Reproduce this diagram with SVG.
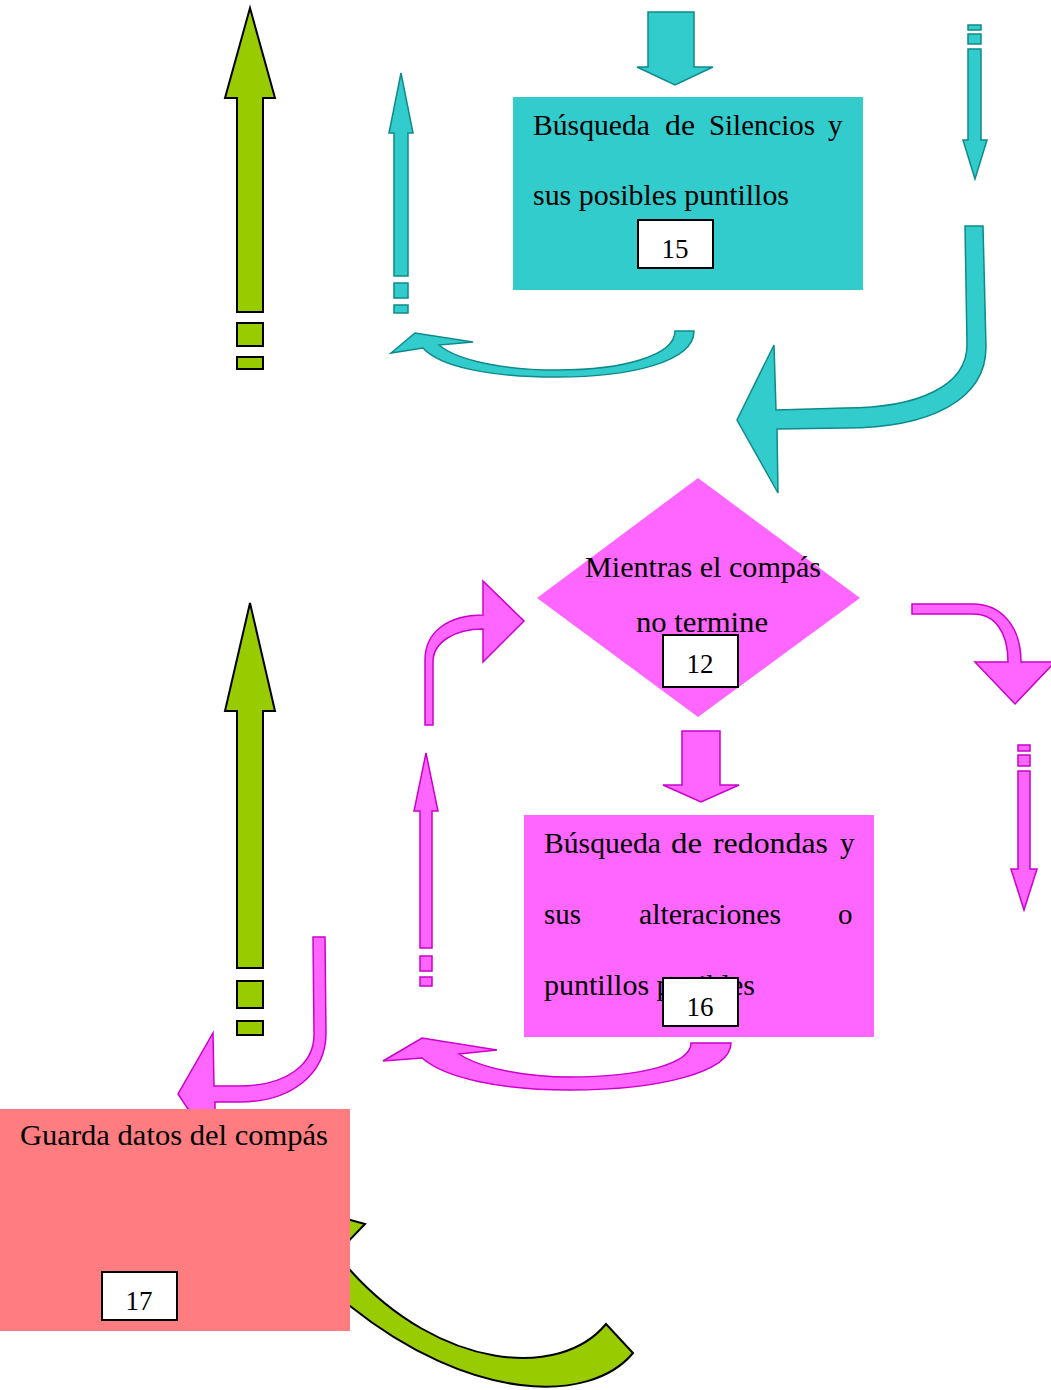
<svg xmlns="http://www.w3.org/2000/svg" width="1051" height="1390" viewBox="0 0 1051 1390">
  <style>
    .txt { font-family: "Liberation Serif", "Times New Roman", serif; font-size: 29px; fill: #000; }
    .num { font-family: "Liberation Serif", "Times New Roman", serif; font-size: 27px; fill: #000; text-anchor: middle; }
    .tag { fill: #fff; stroke: #000; stroke-width: 2; }
    .cyan { fill: #33CCCC; stroke: #0E8A8A; stroke-width: 1.5; stroke-linejoin: miter; }
    .pink { fill: #FF66FF; stroke: #CC00CC; stroke-width: 1.5; stroke-linejoin: miter; }
    .green { fill: #99CC00; stroke: #000; stroke-width: 2; stroke-linejoin: miter; }
  </style>

  <g id="connectors">
    <!-- green striped up arrow, upper -->
    <g class="green">
      <polygon points="250,8 275,98 263,98 263,312 237,312 237,98 225,98"/>
      <rect x="237" y="323" width="26" height="23"/>
      <rect x="237" y="357" width="26" height="12"/>
    </g>
    <!-- cyan striped up arrow -->
    <g class="cyan">
      <polygon points="401,73 413,133 408,133 408,276 394,276 394,133 389,133"/>
      <rect x="394" y="283" width="14" height="15"/>
      <rect x="394" y="305" width="14" height="8"/>
    </g>
    <!-- cyan down block arrow into box 15 -->
    <polygon class="cyan" points="648,12 694,12 694,67 713,67 675,85 637,67 648,67"/>
    <!-- cyan striped down arrow, right -->
    <g class="cyan">
      <rect x="968" y="25" width="13" height="5"/>
      <rect x="968" y="34" width="13" height="10"/>
      <polygon points="968,49 981,49 981,140 987,140 975,179 963,140 968,140"/>
    </g>
    <!-- cyan U-turn arrow under box 15 -->
    <path class="cyan" d="M 675,331 L 694,331 C 694,362 630,377 557,377 C 490,377 440,367 423,348 L 391,353 L 415,333 L 473,342 L 439,345 C 458,361 505,370 557,370 C 625,370 675,355 675,331 Z"/>
    <!-- cyan bent arrow towards the diamond -->
    <path class="cyan" d="M 965,226 L 983,226 L 986,347 C 986,400 930,428 845,428 L 777,429 L 778,493 L 737,420 L 774,345 L 776,410 L 845,408 C 920,408 967,385 967,345 Z"/>

    <!-- pink bent arrow into the diamond -->
    <path class="pink" d="M 425,725 L 425,660 C 425,632 448,615 483,615 L 483,581 L 524,621 L 483,662 L 483,629 C 455,629 433,642 433,662 L 433,725 Z"/>
    <!-- pink bent arrow out of the diamond -->
    <path class="pink" d="M 912,604 L 973,604 C 1000,604 1021,625 1021,662 L 1055,662 L 1015,704 L 975,662 L 1008,662 C 1008,632 995,614 973,614 L 912,614 Z"/>
    <!-- pink down block arrow into box 16 -->
    <polygon class="pink" points="682,731 720,731 720,785 739,785 701,802 663,785 682,785"/>
    <!-- pink striped up arrow -->
    <g class="pink">
      <polygon points="426,753 438,811 432,811 432,948 420,948 420,811 414,811"/>
      <rect x="420" y="956" width="12" height="15"/>
      <rect x="420" y="977" width="12" height="9"/>
    </g>
    <!-- pink striped down arrow, right -->
    <g class="pink">
      <rect x="1018" y="745" width="12" height="6"/>
      <rect x="1018" y="755" width="12" height="11"/>
      <polygon points="1018,771 1030,771 1030,869 1037,869 1024,910 1011,869 1018,869"/>
    </g>
    <!-- pink U-turn arrow under box 16 -->
    <path class="pink" d="M 691,1043 L 731,1043 C 731,1072 660,1090 570,1090 C 500,1090 445,1078 422,1058 L 383,1061 L 422,1038 L 497,1050 L 459,1054 C 480,1068 525,1077 570,1077 C 640,1077 691,1064 691,1043 Z"/>
    <!-- pink bent arrow down to box 17 -->
    <path class="pink" d="M 313,937 L 325,937 L 326,1033 C 326,1075 290,1102 240,1102 L 215,1102 L 215,1150 L 178,1094 L 213,1033 L 214,1086 L 240,1086 C 285,1086 315,1065 314,1033 Z"/>

    <!-- green striped up arrow, lower -->
    <g class="green">
      <polygon points="250,603 275,711 263,711 263,968 237,968 237,711 225,711"/>
      <rect x="237" y="981" width="26" height="27"/>
      <rect x="237" y="1021" width="26" height="14"/>
    </g>
    <!-- green curved arrow back to box 17 (head tucked under the box) -->
    <path class="green" d="M 606,1324 L 633,1353 C 590,1405 470,1402 350,1306 L 318,1282 L 296,1205 L 365,1224 L 338,1252 L 350,1270 C 440,1370 560,1380 606,1324 Z"/>
  </g>

  <!-- box 15 -->
  <g id="node-15">
    <rect x="513" y="97" width="350" height="193" fill="#33CCCC"/>
    <text class="txt" y="135"><tspan x="533" textLength="117" lengthAdjust="spacingAndGlyphs">Búsqueda</tspan><tspan x="665" textLength="30" lengthAdjust="spacingAndGlyphs">de</tspan><tspan x="709" textLength="106" lengthAdjust="spacingAndGlyphs">Silencios</tspan><tspan x="828">y</tspan></text>
    <text class="txt" x="533" y="205" textLength="256" lengthAdjust="spacingAndGlyphs">sus posibles puntillos</text>
    <rect class="tag" x="638" y="220" width="75" height="48"/>
    <text class="num" x="675" y="258">15</text>
  </g>

  <!-- decision 12 -->
  <g id="node-12">
    <polygon points="698,478 860,598 698,717 537,598" fill="#FF66FF"/>
    <text class="txt" x="585" y="577" textLength="236" lengthAdjust="spacingAndGlyphs">Mientras el compás</text>
    <text class="txt" x="636" y="632" textLength="132" lengthAdjust="spacingAndGlyphs">no termine</text>
    <rect class="tag" x="663" y="635" width="75" height="52"/>
    <text class="num" x="700" y="673">12</text>
  </g>

  <!-- box 16 -->
  <g id="node-16">
    <rect x="524" y="815" width="350" height="222" fill="#FF66FF"/>
    <text class="txt" y="853"><tspan x="544" textLength="117" lengthAdjust="spacingAndGlyphs">Búsqueda</tspan><tspan x="671" textLength="31" lengthAdjust="spacingAndGlyphs">de</tspan><tspan x="713" textLength="115" lengthAdjust="spacingAndGlyphs">redondas</tspan><tspan x="840">y</tspan></text>
    <text class="txt" y="924"><tspan x="544" textLength="37" lengthAdjust="spacingAndGlyphs">sus</tspan><tspan x="639" textLength="142" lengthAdjust="spacingAndGlyphs">alteraciones</tspan><tspan x="838">o</tspan></text>
    <text class="txt" x="544" y="995" textLength="211" lengthAdjust="spacingAndGlyphs">puntillos posibles</text>
    <rect class="tag" x="663" y="978" width="75" height="48"/>
    <text class="num" x="700" y="1016">16</text>
  </g>

  <!-- box 17 -->
  <g id="node-17">
    <rect x="0" y="1109" width="350" height="222" fill="#FF7C80"/>
    <text class="txt" x="20" y="1145" textLength="308" lengthAdjust="spacingAndGlyphs">Guarda datos del compás</text>
    <rect class="tag" x="102" y="1272" width="75" height="48"/>
    <text class="num" x="139" y="1310">17</text>
  </g>
</svg>
